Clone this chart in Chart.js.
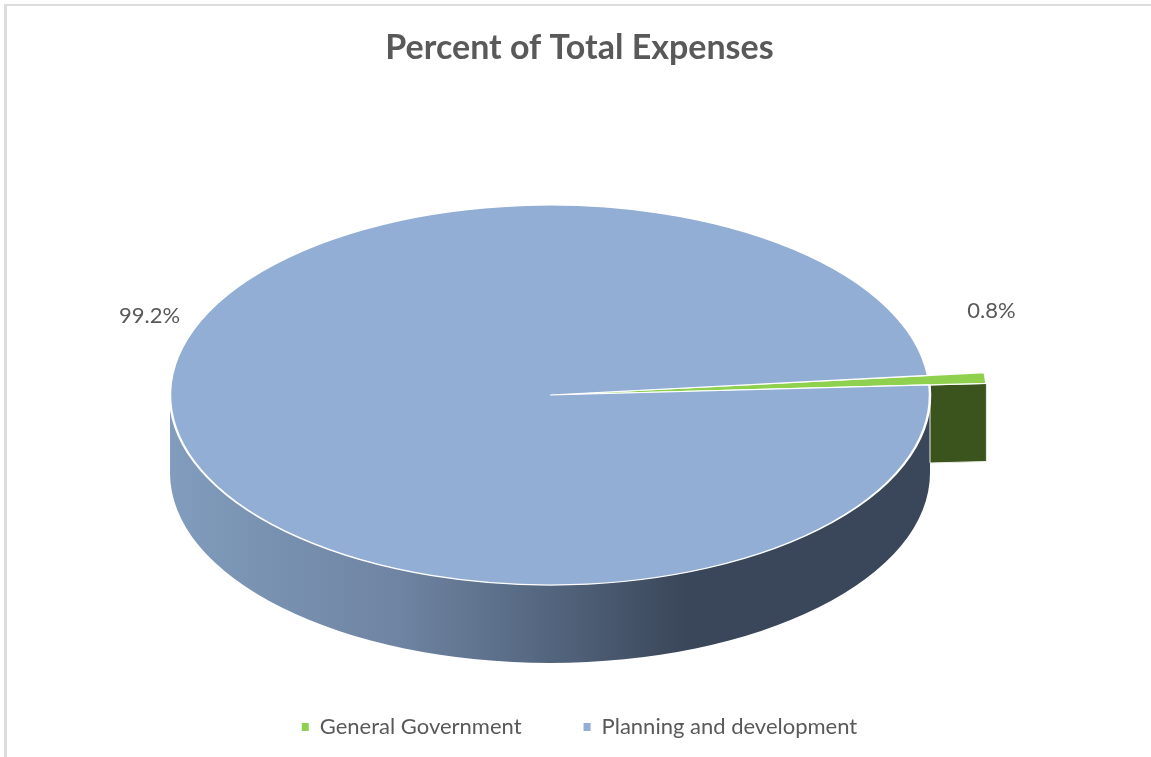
<!DOCTYPE html>
<html>
<head>
<meta charset="utf-8">
<title>Percent of Total Expenses</title>
<script src="https://cdn.jsdelivr.net/npm/chart.js@4"></script>
<style>
    html, body { margin: 0; padding: 0; background: #fff; overflow: hidden; }
    #frame { position: absolute; left: 4px; top: 4px; width: 1147px; height: 753px; border-left: 3px solid #dcdcdc; border-top: 2px solid #dcdcdc; }
    canvas { position: absolute; left: 0; top: 0; }
</style>
</head>
<body>
<div id="frame"></div>
<canvas id="pie" width="1151" height="757"></canvas>
<script>
const categories = ['General Government', 'Planning and development'];
const percentValues = [0.8, 99.2];

const sliceColors = ['#8fd14f', '#93aed5'];
const textColor = '#595959';

// look of the fake 3D disc
const centerX = 550;
const centerY = 395;
const pieRadius = 380;
const sliceRadius = 437;   // the small slice sticks out past the rim
const tilt = 0.5;
const depth = 78;

const labelSpots = [[991.5, 311], [149.5, 316]];

const pie3d = {
    id: 'pie3d',
    afterLayout(chart) {
        // pie gets its own box, title and legend keep the full width
        chart.chartArea.left = centerX - pieRadius;
        chart.chartArea.right = centerX + pieRadius;
        chart.chartArea.top = centerY - pieRadius;
        chart.chartArea.bottom = centerY + pieRadius;
        chart.chartArea.width = pieRadius * 2;
        chart.chartArea.height = pieRadius * 2;
    },
    afterDatasetsUpdate(chart) {
        chart.getDatasetMeta(0).data[0].outerRadius = sliceRadius;
    },
    beforeDatasetsDraw(chart) {
        const ctx = chart.ctx;
        const arcs = chart.getDatasetMeta(0).data;
        const cx = arcs[1].x;
        const cy = arcs[1].y;
        const r = arcs[1].outerRadius;
        const ry = r * tilt;

        // rim of the big slice
        const grad = ctx.createLinearGradient(cx - r, 0, cx + r, 0);
        grad.addColorStop(0, '#819cbd');
        grad.addColorStop(0.3, '#6f84a2');
        grad.addColorStop(0.5, '#53657e');
        grad.addColorStop(0.68, '#3a4659');
        grad.addColorStop(1, '#3a4659');
        ctx.save();
        ctx.beginPath();
        ctx.ellipse(cx, cy + depth, r, ry, 0, 0, Math.PI);
        ctx.lineTo(cx - r, cy);
        ctx.ellipse(cx, cy, r, ry, 0, Math.PI, 0, true);
        ctx.closePath();
        ctx.fillStyle = grad;
        ctx.fill();

        // outer face of the small slice, along its lower edge
        const a = arcs[0].endAngle;
        const tipX = cx + Math.cos(a) * arcs[0].outerRadius;
        const tipY = cy + Math.sin(a) * arcs[0].outerRadius * tilt;
        const rimX = cx + r;
        const rimY = cy + (rimX - cx) * Math.tan(a) * tilt;
        ctx.beginPath();
        ctx.moveTo(rimX, rimY);
        ctx.lineTo(tipX, tipY);
        ctx.lineTo(tipX, tipY + depth);
        ctx.lineTo(rimX, rimY + depth);
        ctx.closePath();
        ctx.fillStyle = '#3b541e';
        ctx.fill();
        ctx.strokeStyle = '#e8ece2';
        ctx.lineWidth = 1;
        ctx.stroke();
        ctx.restore();

        // squash the flat pie into the top of the disc
        ctx.save();
        ctx.translate(cx, cy);
        ctx.scale(1, tilt);
        ctx.translate(-cx, -cy);
    },
    afterDatasetsDraw(chart) {
        const ctx = chart.ctx;
        ctx.restore();
        ctx.save();
        ctx.font = '22px Lato';
        ctx.fillStyle = textColor;
        ctx.textAlign = 'center';
        ctx.textBaseline = 'middle';
        percentValues.forEach((v, i) => {
            ctx.fillText(v.toFixed(1) + '%', labelSpots[i][0], labelSpots[i][1]);
        });
        ctx.restore();
    }
};

new Chart(document.getElementById('pie'), {
    type: 'pie',
    data: {
        labels: categories,
        datasets: [{
            data: percentValues,
            backgroundColor: sliceColors,
            borderColor: '#ffffff',
            borderWidth: 2.5,
            radius: pieRadius,
            clip: false
        }]
    },
    options: {
        responsive: false,
        animation: false,
        rotation: 84.1,
        layout: { padding: { left: 8, bottom: 9 } },
        plugins: {
            title: {
                display: true,
                text: 'Percent of Total Expenses',
                color: textColor,
                font: { family: 'Lato', size: 34, weight: 'bold' },
                padding: { top: 28, bottom: 10 }
            },
            legend: {
                position: 'bottom',
                labels: {
                    color: textColor,
                    font: { family: 'Lato', size: 22 },
                    boxWidth: 7,
                    boxHeight: 8,
                    padding: 62,
                    generateLabels(chart) {
                        return categories.map((name, i) => ({
                            text: name,
                            fillStyle: sliceColors[i],
                            strokeStyle: sliceColors[i],
                            fontColor: textColor,
                            lineWidth: 0,
                            index: i
                        }));
                    }
                }
            },
            tooltip: { enabled: false }
        }
    },
    plugins: [pie3d]
});
</script>
</body>
</html>
